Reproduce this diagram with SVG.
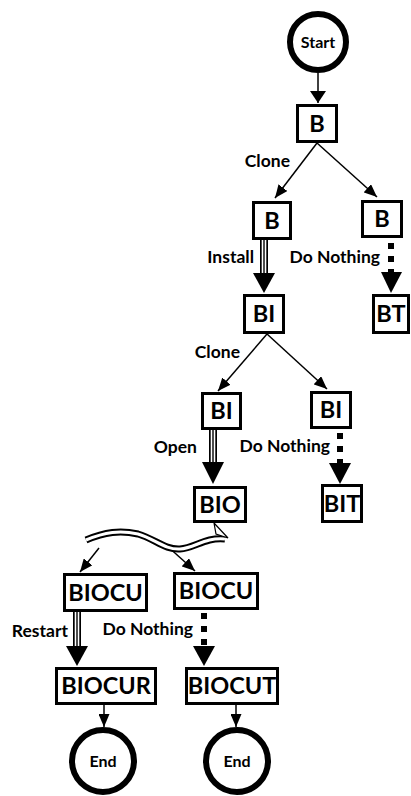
<svg xmlns="http://www.w3.org/2000/svg" width="411" height="796" viewBox="0 0 411 796">
<style>
.box{fill:#fff;stroke:#000;stroke-width:3}
.lbl{font-family:Lato,"Open Sans",sans-serif;font-weight:bold;font-size:23.5px;text-anchor:middle;fill:#000}
.edge{font-family:Lato,"Open Sans",sans-serif;font-weight:bold;font-size:17.5px;text-anchor:end;fill:#000}
.circ{fill:#fff;stroke:#000;stroke-width:6}
.ctext{font-family:Lato,"Open Sans",sans-serif;font-weight:bold;font-size:16px;text-anchor:middle;fill:#000}
.thin{stroke:#000;stroke-width:1.5;fill:none;marker-end:url(#ah)}
.t1{stroke:#000;stroke-width:8;fill:none}
.t2{stroke:#fff;stroke-width:4.6;fill:none}
.t3{stroke:#000;stroke-width:1.4;fill:none}
.dot{stroke:#000;stroke-width:6;stroke-dasharray:6 7;fill:none}
.head{fill:#000}
</style>
<defs>
<marker id="ah" viewBox="0 0 13 11" refX="13" refY="5.5" markerWidth="13" markerHeight="11" markerUnits="userSpaceOnUse" orient="auto">
<path d="M0,0 L13,5.5 L0,11 z" fill="#000"/>
</marker>
<marker id="ahs" viewBox="0 0 12 16" refX="12" refY="8" markerWidth="12" markerHeight="16" markerUnits="userSpaceOnUse" orient="auto">
<path d="M0,0 L12,8 L0,16 z" fill="#000"/>
</marker>
</defs>
<g id="connectors">
<line x1="318" y1="73" x2="318" y2="103" stroke="#000" stroke-width="1.5" marker-end="url(#ahs)"/>
<line class="thin" x1="317" y1="143" x2="275" y2="198"/>
<line class="thin" x1="317" y1="143" x2="377" y2="197"/>
<line class="t1" x1="264" y1="240" x2="264" y2="275"/>
<line class="t2" x1="264" y1="238" x2="264" y2="275"/>
<line class="t3" x1="264" y1="240" x2="264" y2="275"/>
<polygon class="head" points="253,273 275,273 264,293"/>
<line class="dot" x1="391" y1="243" x2="391" y2="272"/>
<polygon class="head" points="381,272 402,272 391,293"/>
<line class="thin" x1="267" y1="334" x2="218" y2="391"/>
<line class="thin" x1="267" y1="334" x2="327" y2="389"/>
<line class="t1" x1="213" y1="430" x2="213" y2="464"/>
<line class="t2" x1="213" y1="428" x2="213" y2="464"/>
<line class="t3" x1="213" y1="430" x2="213" y2="464"/>
<polygon class="head" points="202,462 224,462 213,484"/>
<line class="dot" x1="340" y1="433" x2="340" y2="463"/>
<polygon class="head" points="329,463 351,463 340,484"/>
<line class="thin" x1="99" y1="548" x2="80" y2="572"/>
<line class="thin" x1="166" y1="545" x2="195" y2="571"/>
<path d="M86,540 C105,532 120,530 138,534 C155,539 165,550 180,549 C195,548 205,537 225,539" stroke="#000" stroke-width="7" fill="none"/>
<path d="M86,540 C105,532 120,530 138,534 C155,539 165,550 180,549 C195,548 205,537 225,539" stroke="#fff" stroke-width="3" fill="none"/>
<polygon points="214,523 228,538 216,534" fill="#fff" stroke="#000" stroke-width="1.2"/>
<line class="t1" x1="77" y1="612" x2="77" y2="648"/>
<line class="t2" x1="77" y1="610" x2="77" y2="648"/>
<line class="t3" x1="77" y1="612" x2="77" y2="648"/>
<polygon class="head" points="66,646 88,646 77,666"/>
<line class="dot" x1="204" y1="613" x2="204" y2="646"/>
<polygon class="head" points="193,646 215,646 204,666"/>
<line class="thin" x1="104" y1="705" x2="104" y2="727"/>
<line class="thin" x1="236" y1="705" x2="236" y2="727"/>
</g>
<g id="labels">
<text class="edge" x="290" y="167">Clone</text>
<text class="edge" x="254" y="263">Install</text>
<text class="edge" x="380" y="263">Do Nothing</text>
<text class="edge" x="240" y="358">Clone</text>
<text class="edge" x="197" y="453">Open</text>
<text class="edge" x="330" y="452">Do Nothing</text>
<text class="edge" x="68" y="637">Restart</text>
<text class="edge" x="193" y="635">Do Nothing</text>
</g>
<g id="start"><circle class="circ" cx="318" cy="42" r="28"/><text class="ctext" x="318" y="47.5">Start</text></g>
<g id="b0"><rect class="box" x="297.5" y="105.5" width="39" height="36"/><text class="lbl" x="317" y="132">B</text></g>
<g id="b1"><rect class="box" x="253.5" y="202.5" width="37" height="36"/><text class="lbl" x="272" y="229">B</text></g>
<g id="b2"><rect class="box" x="362.5" y="201.5" width="39" height="35"/><text class="lbl" x="382" y="227">B</text></g>
<g id="bi"><rect class="box" x="244.5" y="295.5" width="39" height="37"/><text class="lbl" x="264" y="322">BI</text></g>
<g id="bt"><rect class="box" x="373.5" y="295.5" width="35" height="37"/><text class="lbl" x="391" y="322">BT</text></g>
<g id="bi1"><rect class="box" x="202.5" y="393.5" width="38" height="35"/><text class="lbl" x="221.5" y="419">BI</text></g>
<g id="bi2"><rect class="box" x="311.5" y="392.5" width="39" height="35"/><text class="lbl" x="331" y="418">BI</text></g>
<g id="bio"><rect class="box" x="194.5" y="487.5" width="51" height="34"/><text class="lbl" x="220" y="513">BIO</text></g>
<g id="bit"><rect class="box" x="322.5" y="485.5" width="39" height="36"/><text class="lbl" x="342" y="512">BIT</text></g>
<g id="biocu1"><rect class="box" x="64.5" y="574.5" width="82" height="36"/><text class="lbl" x="105.5" y="601">BIOCU</text></g>
<g id="biocu2"><rect class="box" x="174.5" y="573.5" width="83" height="35"/><text class="lbl" x="216" y="599">BIOCU</text></g>
<g id="biocur"><rect class="box" x="56.5" y="668.5" width="99" height="35"/><text class="lbl" x="106" y="694">BIOCUR</text></g>
<g id="biocut"><rect class="box" x="186.5" y="668.5" width="91" height="35"/><text class="lbl" x="232" y="694">BIOCUT</text></g>
<g id="end1"><circle class="circ" cx="103" cy="761" r="31"/><text class="ctext" x="103" y="766.5">End</text></g>
<g id="end2"><circle class="circ" cx="237" cy="761" r="31"/><text class="ctext" x="237" y="766.5">End</text></g>
</svg>
